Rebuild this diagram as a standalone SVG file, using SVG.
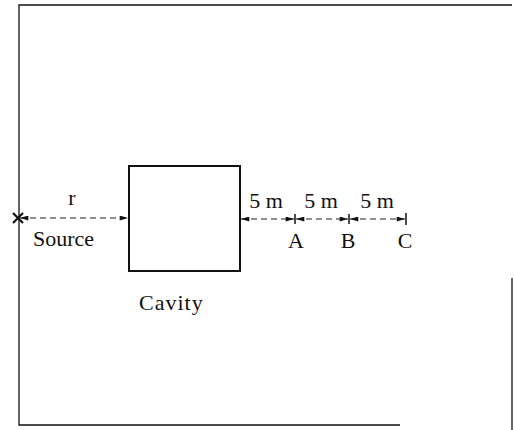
<svg xmlns="http://www.w3.org/2000/svg" width="514" height="430" viewBox="0 0 514 430">
<style>
.frame{fill:none;stroke:#111;stroke-width:1.3}
.box{fill:none;stroke:#111;stroke-width:2}
.dim{fill:none;stroke:#222;stroke-width:1.2;stroke-dasharray:6 4}
.tick{stroke:#111;stroke-width:1.5}
.txt{font-family:"Liberation Serif","Times New Roman",serif;font-size:22px;fill:#111}
</style>
<defs>
<marker id="ah" viewBox="0 0 10 6" refX="10" refY="3" markerWidth="10" markerHeight="5" markerUnits="userSpaceOnUse" orient="auto-start-reverse">
<path d="M0,0 L10,3 L0,6 Z" fill="#111"/>
</marker>
</defs>
<rect width="514" height="430" fill="#fff"/>
<g id="frame">
<path class="frame" d="M512,5 L19,5 L19,425 L400,425"/>
<path class="frame" d="M512,278 L512,430"/>
</g>
<g id="source">
<path d="M13,213 L23,223 M23,213 L13,223" stroke="#111" stroke-width="2.2"/>
<text class="txt" x="33" y="246">Source</text>
</g>
<g id="cavity">
<rect class="box" x="129" y="166" width="111" height="105"/>
<text class="txt" x="139" y="310" letter-spacing="1">Cavity</text>
</g>
<g id="pointA">
<line class="tick" x1="295" y1="214" x2="295" y2="224"/>
<text class="txt" x="296" y="248" text-anchor="middle">A</text>
</g>
<g id="pointB">
<line class="tick" x1="349" y1="214" x2="349" y2="224"/>
<text class="txt" x="348" y="248" text-anchor="middle">B</text>
</g>
<g id="pointC">
<line class="tick" x1="406" y1="213" x2="406" y2="225"/>
<text class="txt" x="405" y="248" text-anchor="middle">C</text>
</g>
<g id="connectors">
<line class="dim" x1="20" y1="218" x2="128" y2="218" marker-start="url(#ah)" marker-end="url(#ah)"/>
<text class="txt" x="72" y="205" text-anchor="middle">r</text>
<line class="dim" x1="241" y1="219" x2="294" y2="219" marker-start="url(#ah)" marker-end="url(#ah)"/>
<text class="txt" x="266" y="208" text-anchor="middle">5 m</text>
<line class="dim" x1="296" y1="219" x2="348" y2="219" marker-start="url(#ah)" marker-end="url(#ah)"/>
<text class="txt" x="321" y="208" text-anchor="middle">5 m</text>
<line class="dim" x1="350" y1="219" x2="405" y2="219" marker-start="url(#ah)" marker-end="url(#ah)"/>
<text class="txt" x="377" y="208" text-anchor="middle">5 m</text>
</g>
</svg>
